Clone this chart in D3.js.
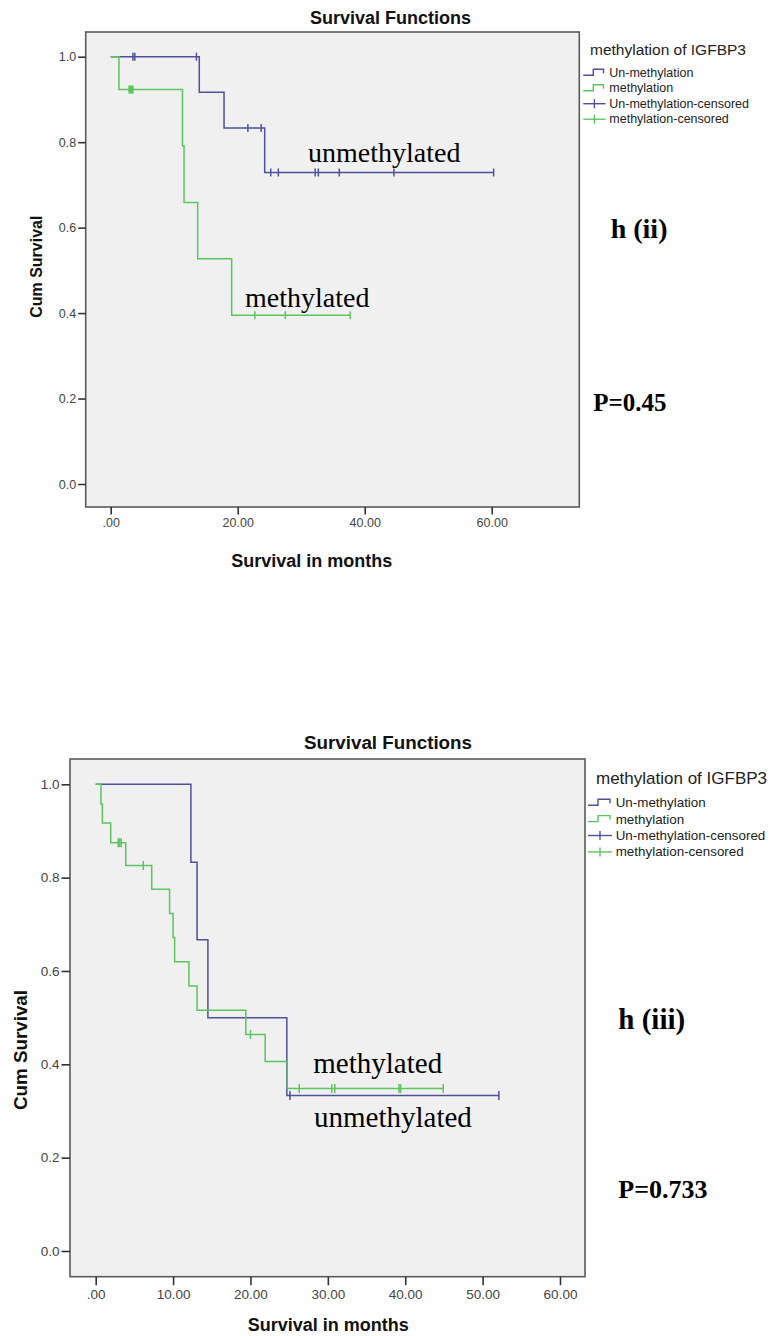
<!DOCTYPE html>
<html><head><meta charset="utf-8">
<script src="https://cdn.jsdelivr.net/npm/d3@7/dist/d3.min.js"></script>
<style>body{margin:0;background:#fff}</style>
</head><body>
<svg id="c" width="771" height="1336" xmlns="http://www.w3.org/2000/svg"></svg>
<script>
// ---------- shared ----------
const yTicks = [0, 0.2, 0.4, 0.6, 0.8, 1.0];
const xTicksTop = [0, 20, 40, 60];
const xTicksBottom = [0, 10, 20, 30, 40, 50, 60];
const legendTitle = "methylation of IGFBP3";
const legendLabels = ["Un-methylation", "methylation", "Un-methylation-censored", "methylation-censored"];
const chartTitle = "Survival Functions";
const xAxisTitle = "Survival in months";
const yAxisTitle = "Cum Survival";

// ---------- top chart h (ii) ----------
const topUnmethTimes = [0, 13.95, 17.85, 24.25];
const topUnmethSurv = [1.0, 0.917, 0.833, 0.729];
const topUnmethEnd = 60.3;
const topUnmethCensored = [3.5, 3.8, 13.5, 21.6, 23.7, 25.2, 26.4, 32.2, 32.7, 36.0, 44.6, 60.3];
const topMethTimes = [0, 1.3, 11.3, 11.55, 13.7, 19.05];
const topMethSurv = [1.0, 0.923, 0.791, 0.659, 0.527, 0.395];
const topMethEnd = 37.7;
const topMethCensored = [2.9, 3.1, 3.3, 3.5, 22.7, 27.5, 37.7];
const topPanelLabel = "h (ii)";
const topPValue = "P=0.45";

// ---------- bottom chart h (iii) ----------
const botUnmethTimes = [0, 12.3, 13.1, 14.5, 24.7];
const botUnmethSurv = [1.0, 0.833, 0.667, 0.5, 0.333];
const botUnmethEnd = 52.1;
const botUnmethCensored = [25.1, 52.1];
const botMethTimes = [0, 0.68, 0.86, 1.94, 3.88, 7.24, 9.55, 10.0, 10.2, 12.05, 13.1, 19.4, 21.9, 24.75];
const botMethSurv = [1.0, 0.958, 0.917, 0.875, 0.826, 0.775, 0.723, 0.672, 0.620, 0.568, 0.516, 0.464, 0.406, 0.348];
const botMethEnd = 44.9;
const botMethCensored = [2.9, 3.1, 3.3, 6.15, 20.0, 26.3, 30.5, 30.9, 39.2, 39.4, 44.9];
const botPanelLabel = "h (iii)";
const botPValue = "P=0.733";

const BLUE = "#50509a";
const GREEN = "#5cc45f";
const SANS = "'Liberation Sans', Arial, sans-serif";
const SERIF = "'Liberation Serif', 'Times New Roman', serif";

const svg = d3.select("#c");

function drawChart(cfg) {
  const g = svg.append("g");
  const x = d3.scaleLinear().domain([0, 60]).range(cfg.xr);
  const y = d3.scaleLinear().domain([0, 1]).range(cfg.yr);
  const f = cfg.frame; // [left, top, right, bottom]

  g.append("rect").attr("x", f[0]).attr("y", f[1]).attr("width", f[2] - f[0]).attr("height", f[3] - f[1])
    .attr("fill", "#f0f0f0").attr("stroke", "#5a5a5a").attr("stroke-width", 1.6);

  // axes
  const ya = d3.axisLeft(y).tickValues(yTicks).tickFormat(d3.format(".1f")).tickSize(cfg.tick).tickPadding(2);
  const yg = g.append("g").attr("transform", `translate(${f[0]},0)`).call(ya);
  const xa = d3.axisBottom(x).tickValues(cfg.xticks).tickFormat(d => d === 0 ? ".00" : d3.format(".2f")(d)).tickSize(cfg.tick).tickPadding(4);
  const xg = g.append("g").attr("transform", `translate(0,${f[3]})`).call(xa);
  [yg, xg].forEach(a => {
    a.select(".domain").remove();
    a.selectAll(".tick line").attr("stroke", "#333").attr("stroke-width", 1.6);
    a.selectAll(".tick text").attr("fill", "#444").attr("font-family", SANS).attr("font-size", cfg.tickFont);
  });

  // curves
  const line = d3.line().x(d => x(d[0])).y(d => y(d[1])).curve(d3.curveStepAfter);
  cfg.series.forEach(s => {
    const pts = s.times.map((t, i) => [t, s.surv[i]]);
    pts.push([s.end, s.surv[s.surv.length - 1]]);
    g.append("path").attr("d", line(pts)).attr("fill", "none").attr("stroke", s.color).attr("stroke-width", 1.5);
    const sAt = t => s.surv[d3.bisectRight(s.times, t) - 1];
    g.selectAll(null).data(s.censored).enter().append("line")
      .attr("x1", d => x(d)).attr("x2", d => x(d))
      .attr("y1", d => y(sAt(d)) - cfg.mark).attr("y2", d => y(sAt(d)) + cfg.mark)
      .attr("stroke", s.color).attr("stroke-width", 1.5);
  });

  // titles
  g.append("text").attr("x", cfg.titleX).attr("y", cfg.titleY).attr("text-anchor", "middle").attr("dominant-baseline", "central")
    .attr("font-family", SANS).attr("font-weight", "bold").attr("font-size", cfg.titleFont).attr("fill", "#111").text(chartTitle);
  g.append("text").attr("x", cfg.xlabX).attr("y", cfg.xlabY).attr("text-anchor", "middle").attr("dominant-baseline", "central")
    .attr("font-family", SANS).attr("font-weight", "bold").attr("font-size", cfg.xlabFont).attr("fill", "#111").text(xAxisTitle);
  g.append("text").attr("transform", `translate(${cfg.ylabX},${cfg.ylabY}) rotate(-90)`).attr("text-anchor", "middle").attr("dominant-baseline", "central")
    .attr("font-family", SANS).attr("font-weight", "bold").attr("font-size", cfg.ylabFont).attr("fill", "#111").text(yAxisTitle);

  // legend
  const L = cfg.legend;
  g.append("text").attr("x", L.titleX).attr("y", L.titleY).attr("dominant-baseline", "central")
    .attr("font-family", SANS).attr("font-size", L.titleFont).attr("fill", "#222").text(legendTitle);
  const colors = [BLUE, GREEN, BLUE, GREEN];
  legendLabels.forEach((lab, i) => {
    const cy = L.y0 + i * L.dy;
    if (i < 2) {
      g.append("path").attr("d", `M${L.sx0},${cy + 2.5}H${L.sx0 + 10}V${cy - 3.5}H${L.sx1 - 2}V${cy + 0.5}`)
        .attr("fill", "none").attr("stroke", colors[i]).attr("stroke-width", 1.4);
    } else {
      g.append("line").attr("x1", L.sx0).attr("x2", L.sx1).attr("y1", cy).attr("y2", cy).attr("stroke", colors[i]).attr("stroke-width", 1.4);
      const mx = (L.sx0 + L.sx1) / 2;
      g.append("line").attr("x1", mx).attr("x2", mx).attr("y1", cy - 4.5).attr("y2", cy + 4.5).attr("stroke", colors[i]).attr("stroke-width", 1.4);
    }
    g.append("text").attr("x", L.tx).attr("y", cy).attr("dominant-baseline", "central")
      .attr("font-family", SANS).attr("font-size", L.font).attr("fill", "#222").text(lab);
  });

  // annotations
  cfg.notes.forEach(n => {
    g.append("text").attr("x", n.x).attr("y", n.y).attr("font-family", SERIF)
      .attr("font-weight", n.bold ? "bold" : "normal").attr("font-size", n.size).attr("fill", "#000").text(n.text);
  });
}

drawChart({
  xr: [110.7, 491.7], yr: [484, 56.7], frame: [85.7, 32, 579.3, 507], xticks: xTicksTop,
  tick: 7.5, tickFont: 12.5, mark: 4,
  titleX: 390.5, titleY: 18, titleFont: 18,
  xlabX: 311.8, xlabY: 560.7, xlabFont: 18,
  ylabX: 36.7, ylabY: 266.7, ylabFont: 16,
  series: [
    {times: topUnmethTimes, surv: topUnmethSurv, end: topUnmethEnd, censored: topUnmethCensored, color: BLUE},
    {times: topMethTimes, surv: topMethSurv, end: topMethEnd, censored: topMethCensored, color: GREEN}
  ],
  legend: {titleX: 590, titleY: 49, titleFont: 15.5, y0: 72.7, dy: 15.5, sx0: 583.3, sx1: 605.5, tx: 609.3, font: 12.5},
  notes: [
    {text: "unmethylated", x: 308, y: 162, size: 28},
    {text: "methylated", x: 245, y: 306.7, size: 28},
    {text: topPanelLabel, x: 610.7, y: 238.3, size: 28, bold: true},
    {text: topPValue, x: 593.3, y: 410.7, size: 25, bold: true}
  ]
});

drawChart({
  xr: [95.7, 560], yr: [1251, 784.3], frame: [70, 759, 585, 1276.7], xticks: xTicksBottom,
  tick: 8.5, tickFont: 13.5, mark: 4.5,
  titleX: 388, titleY: 742.7, titleFont: 18.8,
  xlabX: 328.3, xlabY: 1325, xlabFont: 18,
  ylabX: 20, ylabY: 1050, ylabFont: 18.8,
  series: [
    {times: botUnmethTimes, surv: botUnmethSurv, end: botUnmethEnd, censored: botUnmethCensored, color: BLUE},
    {times: botMethTimes, surv: botMethSurv, end: botMethEnd, censored: botMethCensored, color: GREEN}
  ],
  legend: {titleX: 596, titleY: 778.3, titleFont: 17, y0: 802.7, dy: 16.4, sx0: 588, sx1: 612, tx: 615.7, font: 13.4},
  notes: [
    {text: "methylated", x: 313.3, y: 1072.7, size: 29},
    {text: "unmethylated", x: 314, y: 1126.7, size: 29},
    {text: botPanelLabel, x: 618.3, y: 1029.3, size: 29, bold: true},
    {text: botPValue, x: 618.3, y: 1198.3, size: 26, bold: true}
  ]
});
</script>
</body></html>
